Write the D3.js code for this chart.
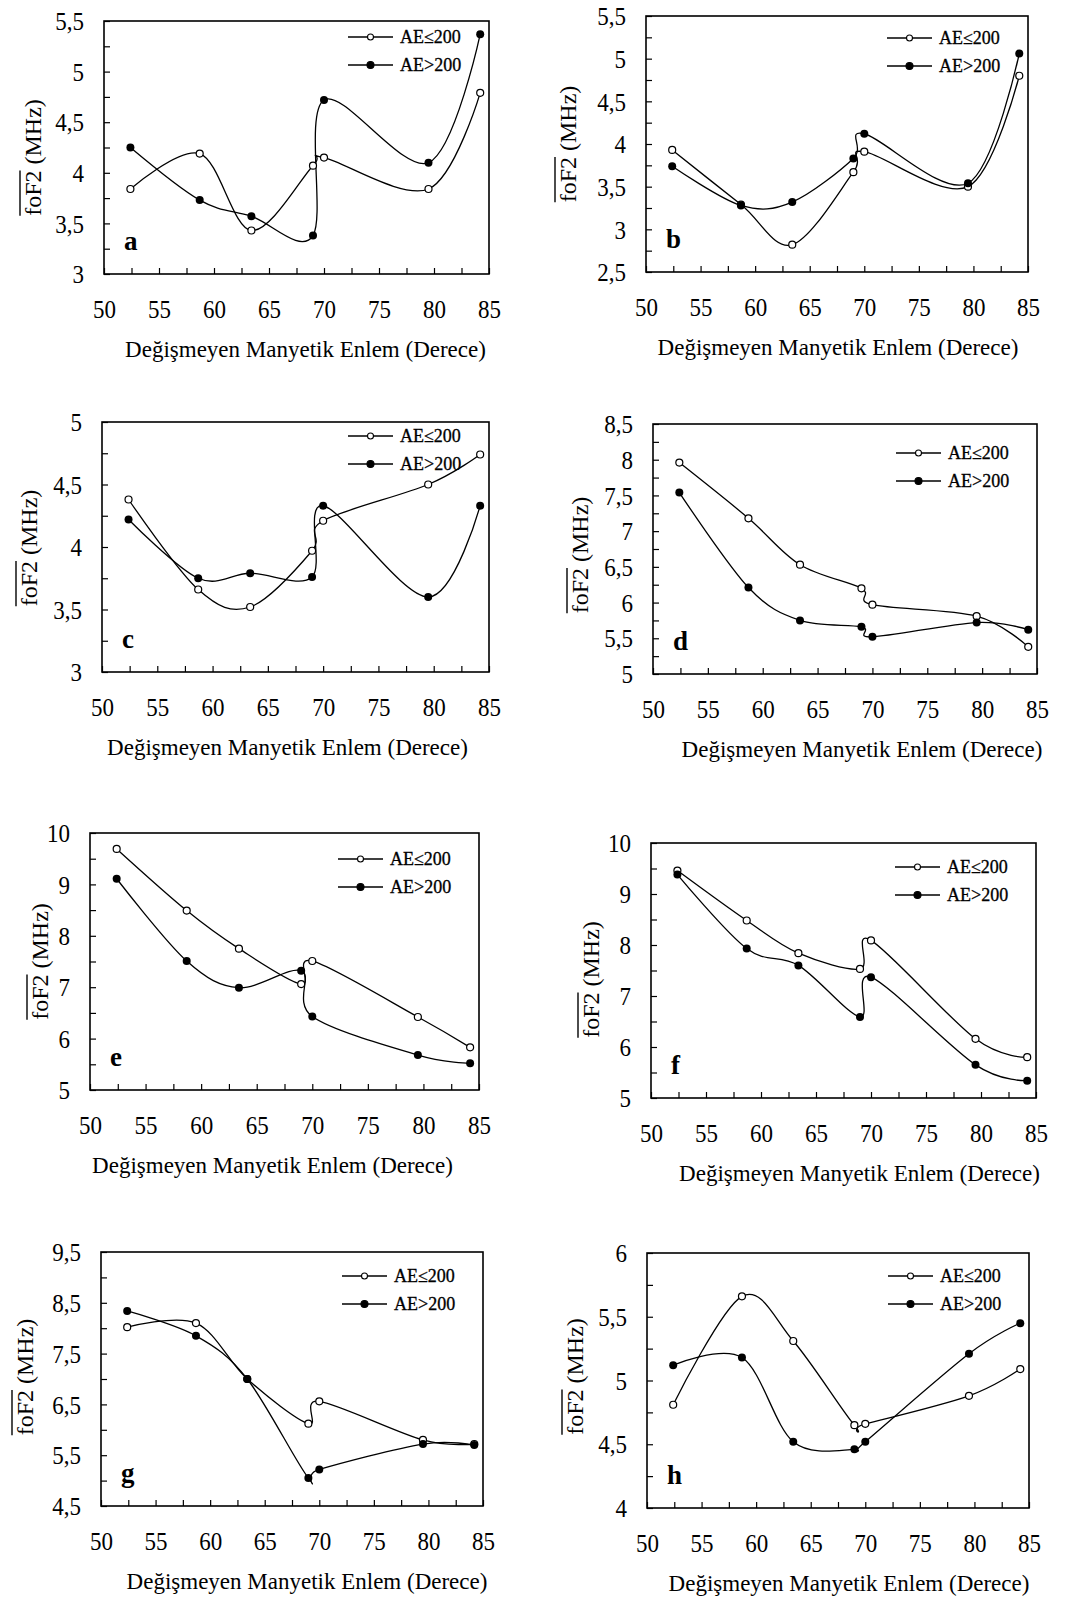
<!DOCTYPE html>
<html>
<head>
<meta charset="utf-8">
<script src="https://cdn.jsdelivr.net/npm/d3@7"></script>
<style>
  body { margin: 0; background: #fff; }
  svg { display: block; }
  .tall { transform: scaleY(1.14); transform-box: fill-box; transform-origin: center; }
</style>
</head>
<body>
<svg id="chart" width="1067" height="1598"></svg>
<script>
// station latitudes (degrees), same for all panels
const latitudes = [52.4, 58.7, 63.4, 69.0, 70.0, 79.5, 84.2];
const xTickLabels = [50, 55, 60, 65, 70, 75, 80, 85];
const seriesNames = ["AE\u2264200", "AE>200"];
const letters = ["a", "b", "c", "d", "e", "f", "g", "h"];

// mean foF2 (MHz): low = AE<=200 (open), high = AE>200 (filled)
const lowA = [3.84, 4.19, 3.43, 4.07, 4.15, 3.84, 4.79];
const highA = [4.25, 3.73, 3.57, 3.38, 4.72, 4.10, 5.37];
const lowB = [3.93, 3.29, 2.82, 3.67, 3.91, 3.50, 4.80];
const highB = [3.74, 3.28, 3.32, 3.83, 4.12, 3.54, 5.06];
const lowC = [4.38, 3.66, 3.52, 3.97, 4.21, 4.50, 4.74];
const highC = [4.22, 3.75, 3.79, 3.76, 4.33, 3.60, 4.33];
const lowD = [7.96, 7.18, 6.53, 6.20, 5.97, 5.81, 5.38];
const highD = [7.54, 6.21, 5.75, 5.66, 5.52, 5.72, 5.62];
const lowE = [9.69, 8.49, 7.75, 7.06, 7.51, 6.42, 5.83];
const highE = [9.11, 7.51, 6.99, 7.32, 6.43, 5.68, 5.52];
const lowF = [9.46, 8.48, 7.84, 7.53, 8.09, 6.16, 5.80];
const highF = [9.38, 7.93, 7.60, 6.59, 7.37, 5.65, 5.34];
const lowG = [8.02, 8.10, 7.00, 6.12, 6.56, 5.80, 5.72];
const highG = [8.34, 7.85, 7.00, 5.05, 5.22, 5.72, 5.70];
const lowH = [4.81, 5.66, 5.31, 4.65, 4.66, 4.88, 5.09];
const highH = [5.12, 5.18, 4.52, 4.46, 4.52, 5.21, 5.45];

// y tick labels per panel
const yTicksA = [3, 3.5, 4, 4.5, 5, 5.5];
const yTicksB = [2.5, 3, 3.5, 4, 4.5, 5, 5.5];
const yTicksC = [3, 3.5, 4, 4.5, 5];
const yTicksD = [5, 5.5, 6, 6.5, 7, 7.5, 8, 8.5];
const yTicksE = [5, 6, 7, 8, 9, 10];
const yTicksF = [5, 6, 7, 8, 9, 10];
const yTicksG = [4.5, 5.5, 6.5, 7.5, 8.5, 9.5];
const yTicksH = [4, 4.5, 5, 5.5, 6];

const panels = [
  { low: lowA, high: highA, ticks: yTicksA },
  { low: lowB, high: highB, ticks: yTicksB },
  { low: lowC, high: highC, ticks: yTicksC },
  { low: lowD, high: highD, ticks: yTicksD },
  { low: lowE, high: highE, ticks: yTicksE },
  { low: lowF, high: highF, ticks: yTicksF },
  { low: lowG, high: highG, ticks: yTicksG },
  { low: lowH, high: highH, ticks: yTicksH }
];

// page layout of each plot frame, plus small offsets for titles / legend
const boxes = [
  { x0: 104, x1: 489, y0: 21, y1: 274, ytx: 71, yty: 10, tdx: 9, ly: 16 },
  { x0: 646, x1: 1028, y0: 16, y1: 272, ytx: 78, yty: 0, tdx: 1, ly: 22 },
  { x0: 102, x1: 489, y0: 422, y1: 672, ytx: 73, yty: 1, tdx: -8, ly: 14 },
  { x0: 653, x1: 1037, y0: 424, y1: 674, ytx: 73, yty: 6, tdx: 17, ly: 29 },
  { x0: 90, x1: 479, y0: 833, y1: 1090, ytx: 50, yty: 0, tdx: -12, ly: 26 },
  { x0: 651, x1: 1036, y0: 843, y1: 1098, ytx: 60, yty: 9, tdx: 16, ly: 24 },
  { x0: 101, x1: 483, y0: 1252, y1: 1506, ytx: 76, yty: -2, tdx: 15, ly: 24 },
  { x0: 647, x1: 1029, y0: 1253, y1: 1508, ytx: 72, yty: -4, tdx: 11, ly: 23 }
];

const font = "'Liberation Serif', 'Times New Roman', serif";
const svg = d3.select("#chart");
const fmt = d => String(d).replace(".", ",");

panels.forEach((p, i) => {
  const b = boxes[i];
  const yt = p.ticks;
  const step = yt[1] - yt[0];

  const x = d3.scaleLinear().domain([50, 85]).range([b.x0, b.x1]);
  const y = d3.scaleLinear().domain([yt[0], yt[yt.length - 1]]).range([b.y1, b.y0]);

  const g = svg.append("g");

  // x axis, ticks inside
  const xAxis = g.append("g")
    .attr("transform", `translate(0,${b.y1})`)
    .call(d3.axisBottom(x)
      .tickValues(d3.range(50, 85.001, 2.5))
      .tickSize(-6)
      .tickPadding(27)
      .tickFormat(d => xTickLabels.includes(d) ? d : ""));

  // y axis, ticks inside, labels on major ticks only
  const yAxis = g.append("g")
    .attr("transform", `translate(${b.x0},0)`)
    .call(d3.axisLeft(y)
      .tickValues(d3.range(yt[0], yt[yt.length - 1] + 1e-9, step / 2))
      .tickSize(-6)
      .tickPadding(20)
      .tickFormat(d => yt.some(t => Math.abs(t - d) < 1e-9) ? fmt(+d.toFixed(2)) : ""));

  [xAxis, yAxis].forEach(ax => {
    ax.select(".domain").remove();
    ax.selectAll("line").attr("stroke", "#000").attr("stroke-width", 1.2);
    ax.selectAll("text")
      .attr("class", "tall")
      .attr("font-family", font)
      .attr("font-size", 23)
      .attr("fill", "#000");
  });
  yAxis.selectAll("text").attr("dy", "0.33em");

  // frame
  g.append("rect")
    .attr("x", b.x0).attr("y", b.y0)
    .attr("width", b.x1 - b.x0).attr("height", b.y1 - b.y0)
    .attr("fill", "none").attr("stroke", "#000").attr("stroke-width", 1.6);

  // smoothed lines
  const line = d3.line()
    .x((d, j) => x(latitudes[j]))
    .y(d => y(d))
    .curve(d3.curveCardinal.tension(0));

  [p.low, p.high].forEach(vals => {
    g.append("path")
      .attr("d", line(vals))
      .attr("fill", "none")
      .attr("stroke", "#000")
      .attr("stroke-width", 1.3);
  });

  g.selectAll(".low").data(p.low).enter().append("circle")
    .attr("cx", (d, j) => x(latitudes[j]))
    .attr("cy", d => y(d))
    .attr("r", 3.5)
    .attr("fill", "#fff").attr("stroke", "#000").attr("stroke-width", 1.2);

  g.selectAll(".high").data(p.high).enter().append("circle")
    .attr("cx", (d, j) => x(latitudes[j]))
    .attr("cy", d => y(d))
    .attr("r", 4)
    .attr("fill", "#000");

  // legend
  seriesNames.forEach((name, k) => {
    const ly = b.y0 + b.ly + k * 28;
    g.append("line")
      .attr("x1", b.x1 - 141).attr("x2", b.x1 - 96)
      .attr("y1", ly).attr("y2", ly)
      .attr("stroke", "#000").attr("stroke-width", 1.3);
    g.append("circle")
      .attr("cx", b.x1 - 118.5).attr("cy", ly)
      .attr("r", k === 0 ? 3 : 3.5)
      .attr("fill", k === 0 ? "#fff" : "#000")
      .attr("stroke", "#000").attr("stroke-width", 1.1);
    g.append("text")
      .attr("x", b.x1 - 89).attr("y", ly).attr("dy", "0.34em")
      .attr("font-family", font).attr("font-size", 18)
      .attr("stroke", "#000").attr("stroke-width", 0.3)
      .text(name);
  });

  // panel letter
  g.append("text")
    .attr("x", b.x0 + 20).attr("y", b.y1 - 24)
    .attr("font-family", font).attr("font-size", 27).attr("font-weight", "bold")
    .text(letters[i]);

  // x axis title
  g.append("text")
    .attr("x", (b.x0 + b.x1) / 2 + b.tdx).attr("y", b.y1 + 83)
    .attr("text-anchor", "middle")
    .attr("font-family", font).attr("font-size", 23)
    .text("Değişmeyen Manyetik Enlem (Derece)");

  // y axis title with overline on foF2
  const yg = g.append("g")
    .attr("transform", `translate(${b.x0 - b.ytx},${(b.y0 + b.y1) / 2 + b.yty}) rotate(-90)`);
  const yTitle = yg.append("text")
    .attr("y", 8)
    .attr("text-anchor", "middle")
    .attr("font-family", font).attr("font-size", 24)
    .text("foF2 (MHz)");
  const full = yTitle.node().getComputedTextLength();
  const part = yTitle.node().getSubStringLength(0, 4);
  yg.append("line")
    .attr("x1", -full / 2).attr("x2", -full / 2 + part)
    .attr("y1", -13).attr("y2", -13)
    .attr("stroke", "#000").attr("stroke-width", 1.4);
});
</script>
</body>
</html>
